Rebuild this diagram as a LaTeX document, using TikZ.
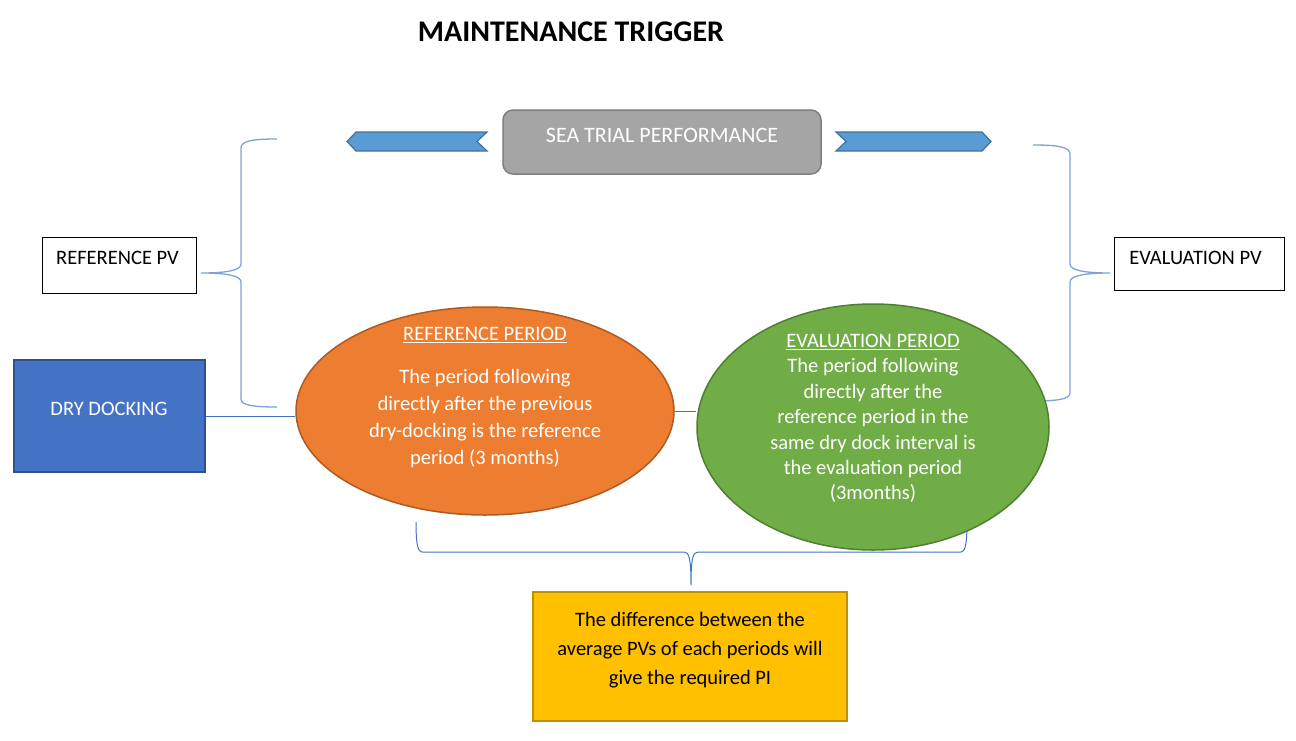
\documentclass[tikz,border=0pt]{standalone}
\usepackage{fontspec}
\setmainfont{Carlito}
\usetikzlibrary{shapes.geometric}
\definecolor{arrowfill}{HTML}{5B9BD5}
\definecolor{arrowline}{HTML}{41719C}
\definecolor{bracecol}{HTML}{7FA2DC}
\definecolor{linkcol}{HTML}{4472C4}
\definecolor{orangefill}{HTML}{ED7D31}
\definecolor{orangeline}{HTML}{AE5A21}
\definecolor{greenfill}{HTML}{70AD47}
\definecolor{greenline}{HTML}{507E32}
\definecolor{bluefill}{HTML}{4472C4}
\definecolor{blueline}{HTML}{2F528F}
\definecolor{yellowfill}{HTML}{FFC000}
\definecolor{yellowline}{HTML}{BF9000}
\definecolor{grayfill}{HTML}{A5A5A5}
\definecolor{grayline}{HTML}{7F7F7F}
\tikzset{
  body/.style={font=\fontsize{20.5}{27}\selectfont, align=center, inner sep=0},
  pvbox/.style={draw=black, line width=1pt, fill=white},
  bandarrow/.style={fill=arrowfill, draw=arrowline, line width=1.2pt, line join=miter},
  bracepath/.style={draw=bracecol, line width=1.3pt},
  link/.style={draw=linkcol, line width=1pt},
  oval/.style={ellipse, inner sep=0, line width=1.5pt},
}
\begin{document}
\begin{tikzpicture}[x=1pt,y=-1pt]
\useasboundingbox[fill=white] (0,0) rectangle (1296,740);

% title
\node[font=\fontsize{30}{34}\selectfont\bfseries, inner sep=0] (title) at (571,32) {MAINTENANCE TRIGGER};

% sea trial box
\draw[fill=grayfill, draw=grayline, line width=1.5pt, rounded corners=10pt] (503,110) rectangle (821,174);
\node[body, text=white, font=\fontsize{22}{27}\selectfont] (sea) at (662,135) {SEA TRIAL PERFORMANCE};

% band arrows
\draw[bandarrow] (347,141.5) -- (356,132) -- (487,132) -- (477,141.5) -- (487,151) -- (356,151) -- cycle;
\draw[bandarrow] (836,132) -- (982,132) -- (991,141.5) -- (982,151) -- (836,151) -- (846,141.5) -- cycle;

% PV boxes
\draw[pvbox] (42,237) rectangle (196,293);
\node[body] (refpv) at (117.5,258) {REFERENCE PV};
\draw[pvbox] (1114,237) rectangle (1284,290);
\node[body] (evalpv) at (1195.5,258) {EVALUATION PV};

% braces
\coordinate (lbtip) at (201,273);
\coordinate (rbtip) at (1110,273);
\coordinate (bbtip) at (691,585);
\draw[bracepath] (277,139) .. controls (252,139) and (241,141) .. (241,148) -- (241,264)
  .. controls (241,270) and (228,273) .. (lbtip)
  .. controls (228,273) and (241,276) .. (241,282) -- (241,399)
  .. controls (241,405) and (252,407) .. (277,407);
\draw[bracepath] (1033,145) .. controls (1058,145) and (1070,147) .. (1070,154) -- (1070,264)
  .. controls (1070,270) and (1083,273) .. (rbtip)
  .. controls (1083,273) and (1070,276) .. (1070,282) -- (1070,393)
  .. controls (1070,399) and (1058,401) .. (1033,401);
\draw[link] (416,522) .. controls (416,545) and (418,552) .. (422,552) -- (684,552)
  .. controls (689,552) and (691,558) .. (bbtip)
  .. controls (691,558) and (693,552) .. (698,552) -- (961,552)
  .. controls (965,552) and (967,545) .. (967,522);

% dry docking
\node[draw=blueline, fill=bluefill, line width=1.5pt, minimum width=191pt, minimum height=112pt, inner sep=0] (dd) at (109.5,416) {};
\node[body, text=white] (ddtext) at (109,409) {DRY DOCKING};

% ellipses
\node[oval, fill=orangefill, draw=orangeline, minimum width=378pt, minimum height=208pt] (ref) at (485,411) {};
\node[oval, fill=greenfill, draw=greenline, minimum width=352pt, minimum height=246pt] (eval) at (873,427) {};

% connectors
\draw[link] (dd.east) -- (dd.east -| ref.west);
\draw[link] (ref.east) -- (eval.west |- ref.east);

% ellipse texts
\node[body, text=white] (reftitle) at (485,335) {\underline{REFERENCE PERIOD}};
\node[body, text=white] (reftext) at (485,419) {The period following\\directly after the previous\\dry-docking is the reference\\period (3 months)};
\node[body, text=white, font=\fontsize{20.5}{25.4}\selectfont] (evaltext) at (873,418.5) {\underline{EVALUATION PERIOD}\\The period following\\directly after the\\reference period in the\\same dry dock interval is\\the evaluation period\\(3months)};

% result box
\node[draw=yellowline, fill=yellowfill, line width=1.5pt, minimum width=314pt, minimum height=129pt, inner sep=0] (res) at (690,656.5) {};
\node[body, font=\fontsize{20.5}{29}\selectfont, text=black] (restext) at (690,650) {The difference between the\\average PVs of each periods will\\give the required PI};
\end{tikzpicture}
\end{document}
